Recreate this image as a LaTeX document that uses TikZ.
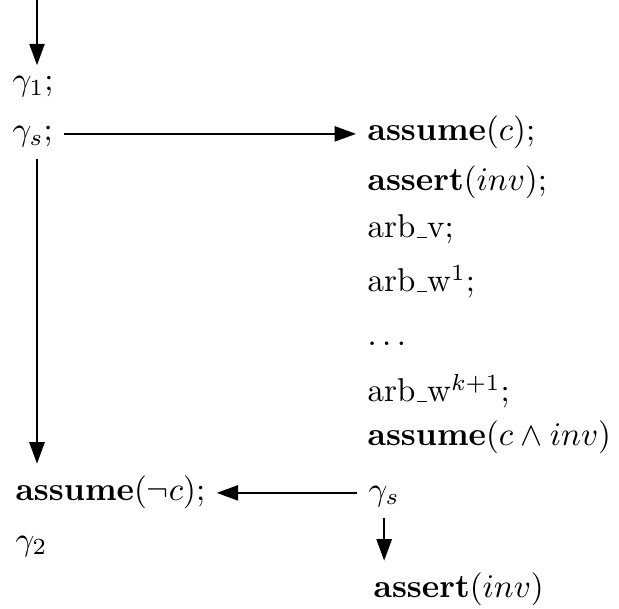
\documentclass[tikz,border=0pt]{standalone}
\usepackage{amsmath,amssymb}
\usepackage{tikz}
\usetikzlibrary{arrows.meta,positioning}
\newcommand{\arbus}{\leavevmode\kern.06em\vbox{\hrule width.3em}}

\begin{document}
\begin{tikzpicture}[
 x=0.303pt, y=-0.303pt,
 stmt/.style={anchor=base west, inner sep=3.3pt},
 flow/.style={-{Triangle[length=6.5pt,width=4.6pt]}, semithick}
]
\useasboundingbox (0,0) rectangle (619,609);
\coordinate (entry) at (37,0);
% left column
\node[stmt] (g1) at (1,91) {$\gamma_1$;};
\node[stmt] (gs) at (1,141) {$\gamma_s$;};
\node[stmt] (assumenot) at (4,500) {\textbf{assume}$(\neg c)$;};
\node[stmt] (g2) at (4,550) {$\gamma_2$};
% right column
\node[stmt] (assumec) at (356,141) {\textbf{assume}$(c)$;};
\node[stmt] (assertinv) at (356,191) {\textbf{assert}$(inv)$;};
\node[stmt] (arbv) at (356,238) {arb\arbus v;};
\node[stmt] (arbw1) at (356,292) {arb\arbus w$^1$;};
\node[stmt] (dots) at (356,346) {$\ldots$};
\node[stmt] (arbwk) at (356,402) {arb\arbus w$^{k+1}$;};
\node[stmt] (assumeinv) at (356,446) {\textbf{assume}$(c\wedge inv)$};
\node[stmt] (gsb) at (357,500) {$\gamma_s$};
\node[stmt] (assertend) at (362,597) {\textbf{assert}$(inv)$};

\draw[flow] (entry) -- (entry |- g1.north);
\draw[flow] (gs.mid east) -- (assumec.mid west);
\draw[flow] (gs.south -| entry) -- (entry |- assumenot.north);
\draw[flow] (gsb.mid west) -- (assumenot.mid east);
\draw[flow] (gsb.south) -- (gsb.south |- assertend.north);
\end{tikzpicture}
\end{document}
